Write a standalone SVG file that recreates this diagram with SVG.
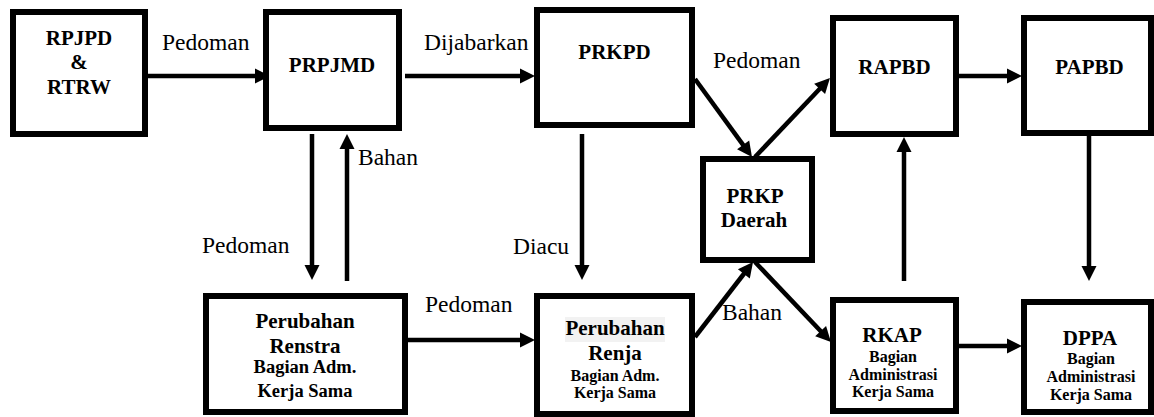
<svg xmlns="http://www.w3.org/2000/svg" width="1154" height="417" viewBox="0 0 1154 417">
<style>
text{font-family:'Liberation Serif','Times New Roman',serif;fill:#000}
.box{fill:#fff;stroke:#000;stroke-width:6}
.t{font-weight:bold;font-size:21px;text-anchor:middle}
.s{font-weight:bold;font-size:16px;text-anchor:middle}
.s2{font-weight:bold;font-size:18.5px;text-anchor:middle}
.lbl{font-size:23.5px}
.c{stroke:#000;stroke-width:4.5;fill:none;marker-end:url(#ah)}
</style>
<defs>
<marker id="ah" markerUnits="userSpaceOnUse" markerWidth="15" markerHeight="15" refX="3" refY="7.5" orient="auto" overflow="visible">
<path d="M0,0 L15,7.5 L0,15 z" fill="#000"/>
</marker>
</defs>
<rect width="1154" height="417" fill="#fff"/>
<g id="connectors">
<line class="c" x1="141" y1="76" x2="258" y2="76"/>
<line class="c" x1="405" y1="76" x2="523" y2="76"/>
<line class="c" x1="695" y1="79" x2="744.9" y2="147.3"/>
<line class="c" x1="755" y1="157" x2="821.7" y2="86.7"/>
<line class="c" x1="959" y1="76" x2="1010" y2="76"/>
<line class="c" x1="312" y1="134" x2="312" y2="268"/>
<line class="c" x1="347" y1="281" x2="347" y2="146"/>
<line class="c" x1="582" y1="134" x2="582" y2="268"/>
<line class="c" x1="408" y1="340" x2="523" y2="340"/>
<line class="c" x1="695" y1="337" x2="745.7" y2="271.5"/>
<line class="c" x1="755" y1="262" x2="822.7" y2="333.3"/>
<line class="c" x1="959" y1="346" x2="1010" y2="346"/>
<line class="c" x1="904" y1="281" x2="904" y2="149"/>
<line class="c" x1="1089" y1="134" x2="1089" y2="269"/>
<text class="lbl" x="162" y="50">Pedoman</text>
<text class="lbl" x="424" y="50">Dijabarkan</text>
<text class="lbl" x="713" y="68">Pedoman</text>
<text class="lbl" x="202" y="253">Pedoman</text>
<text class="lbl" x="358" y="165">Bahan</text>
<text class="lbl" x="513" y="254">Diacu</text>
<text class="lbl" x="425" y="312">Pedoman</text>
<text class="lbl" x="722" y="320">Bahan</text>
</g>
<g id="rpjpd">
<rect class="box" x="13" y="12" width="132" height="122"/>
<text class="t" x="79" y="45">RPJPD</text>
<text class="t" x="79" y="69">&amp;</text>
<text class="t" x="79" y="94">RTRW</text>
</g>
<g id="prpjmd">
<rect class="box" x="266" y="12" width="133" height="116"/>
<text class="t" x="332" y="72">PRPJMD</text>
</g>
<g id="prkpd">
<rect class="box" x="537" y="10" width="155" height="115"/>
<text class="t" x="614.5" y="59">PRKPD</text>
</g>
<g id="rapbd">
<rect class="box" x="833" y="18" width="123" height="116"/>
<text class="t" x="894.5" y="74">RAPBD</text>
</g>
<g id="papbd">
<rect class="box" x="1024" y="18" width="127" height="115"/>
<text class="t" x="1089.5" y="74">PAPBD</text>
</g>
<g id="prkp-daerah">
<rect class="box" x="703" y="159" width="109" height="101"/>
<text class="t" x="755" y="203">PRKP</text>
<text class="t" x="754" y="227">Daerah</text>
</g>
<g id="perubahan-renstra">
<rect class="box" x="206" y="296" width="199" height="116"/>
<text class="t" x="305" y="328">Perubahan</text>
<text class="t" x="305" y="353">Renstra</text>
<text class="s2" x="305" y="373">Bagian Adm.</text>
<text class="s2" x="305" y="397">Kerja Sama</text>
</g>
<g id="perubahan-renja">
<rect class="box" x="537" y="296" width="155" height="118"/>
<rect x="565" y="317" width="100" height="25" fill="#f2f2f2"/>
<text class="t" x="615" y="335">Perubahan</text>
<text class="t" x="615" y="360">Renja</text>
<text class="s" x="615" y="381">Bagian Adm.</text>
<text class="s" x="615" y="398">Kerja Sama</text>
</g>
<g id="rkap">
<rect class="box" x="833" y="300" width="123" height="111"/>
<text class="t" x="892" y="342">RKAP</text>
<text class="s" x="893" y="362">Bagian</text>
<text class="s" x="893" y="380">Administrasi</text>
<text class="s" x="893" y="397">Kerja Sama</text>
</g>
<g id="dppa">
<rect class="box" x="1024" y="302" width="127" height="110"/>
<text class="t" x="1090" y="345">DPPA</text>
<text class="s" x="1091" y="364">Bagian</text>
<text class="s" x="1091" y="382">Administrasi</text>
<text class="s" x="1091" y="400">Kerja Sama</text>
</g>
</svg>
